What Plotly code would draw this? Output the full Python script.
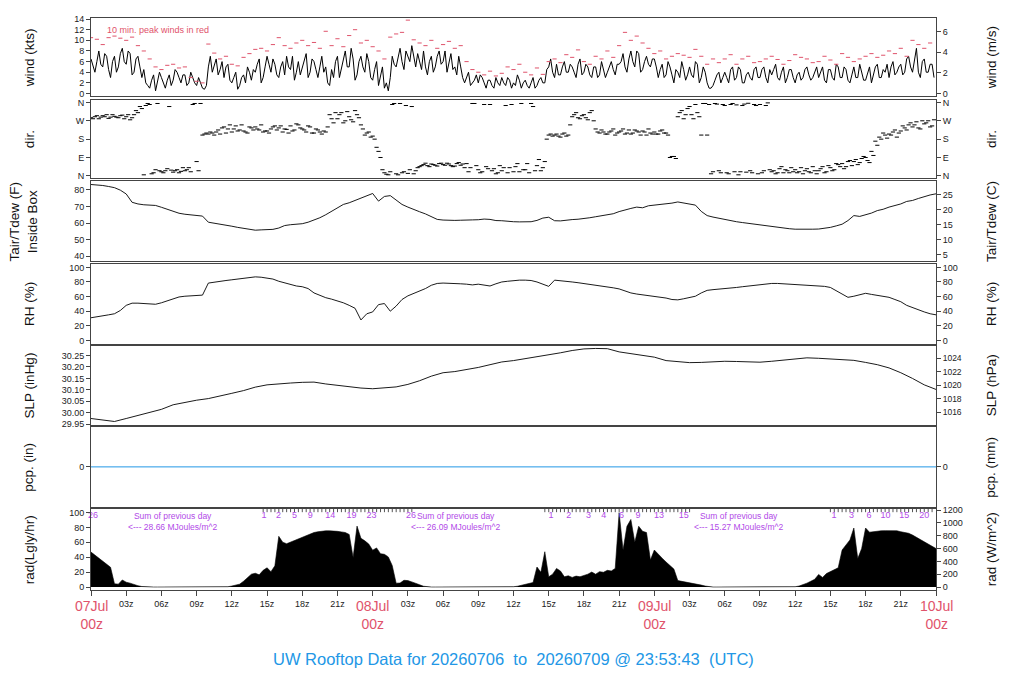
import numpy as np
import plotly.graph_objects as go

FONT = "Liberation Sans, Arial, sans-serif"
RED = "#DF536B"
BLUE = "#2297E6"
PURPLE = "#B24AE8"

# ---- data: time axis is hours after 07Jul 00z ----

# wind speed (kts), every 20 min on the hour grid
wind_kts = [
    6.5, 4, 8, 5, 7, 3, 7, 5, 8.5, 5.5, 7.5, 4, 7, 3, 2, 1, 3.5, 2,
    3, 1, 3.5, 2.5, 4, 2, 3.5, 2, 3, 1.5, 2, 0.8, 5, 4, 6.5, 4.5, 3, 5.5,
    2, 4, 1.5, 3.5, 5, 2.5, 4, 6.5, 3, 7, 4, 5.5, 3, 6, 7, 4.5, 2.5, 6,
    5, 7.5, 4, 6, 3, 7, 5, 1.5, 3, 7, 4.5, 8, 5, 6.5, 3.5, 7, 4, 6,
    2.5, 6, 3, 1, 0.5, 7, 5, 8.5, 4.5, 7, 9, 5, 6, 8, 3.5, 7, 5, 8,
    6, 4, 7.5, 5, 7, 3, 3, 1.5, 2.5, 2, 3, 1, 2.5, 1, 2, 3, 1.5, 2.5,
    2, 3.5, 1, 2.5, 1, 3, 1.5, 3, 2, 5, 4, 5.5, 3.5, 6, 4, 5, 3, 6.5,
    4, 5, 3, 5, 3.5, 4.5, 4, 6, 3.5, 5.5, 7.5, 4, 8, 5, 7.5, 4.5, 7, 5,
    6.5, 3, 5.5, 3.5, 5, 2, 4, 6, 2.5, 5, 3, 5.5, 3, 4, 1, 1.5, 3.5, 2,
    4, 2, 5, 3, 4.5, 2, 4, 2.5, 5, 3, 5, 2, 3.5, 5.5, 2.5, 5, 3, 4.5,
    2, 4, 3, 5, 2.5, 4, 3, 5, 2, 4.5, 2.5, 5, 3, 4.5, 2, 5, 3, 4,
    2.5, 5, 3.5, 5.5, 3, 4, 3, 6, 4, 5.5, 4, 7, 4, 8.5, 3, 6.5, 4, 5.5,
]

# wind speed (kts), the samples 10 min after each of the above
wind_kts_mid = [
    5, 6, 5.5, 7.5, 4.5, 6, 4, 7.5, 6, 8, 3.5, 6.5, 5, 4.5, 1.5, 2.5, 0.5, 4,
    2, 2.5, 1.5, 4.5, 3, 3.5, 1.5, 4, 2, 3, 1, 1.5, 7, 5.5, 3.5, 6, 5, 2.5,
    3, 0.8, 3, 2, 4, 4.5, 5.5, 2, 5, 5.5, 6.5, 3.5, 5, 3.5, 5, 7, 4, 3.5,
    6.5, 3, 6.5, 4.5, 5, 4, 2, 4.5, 6, 3, 6.5, 5, 8.5, 2.5, 6, 5, 7.5, 3,
    4.5, 1.5, 5, 2, 3, 5.5, 7, 6, 8, 6, 7, 7.5, 4.5, 5, 6, 4, 7, 5.5,
    8, 5.5, 4.5, 3.5, 5, 2, 4, 2, 3.5, 3.5, 2, 2.5, 1.5, 3, 1.5, 2, 3, 1,
    1.5, 2.5, 2, 1.5, 2, 1, 2.5, 2, 4.5, 6.5, 3, 3.5, 5, 4, 5.5, 4, 5.5, 3.5,
    5.5, 3.5, 5, 3, 6, 3, 5, 4.5, 5.5, 6, 5, 6.5, 6, 8, 4, 6, 5.5, 6.5,
    5, 4.5, 3, 6, 3.5, 4.5, 3, 4.5, 3.5, 3.5, 6, 2, 5, 2, 1, 2.5, 4, 3,
    3, 4.5, 2.5, 5, 2, 3.5, 3, 4.5, 3, 4.5, 3, 4.5, 4.5, 3, 4, 2, 4.5, 3,
    3.5, 2.5, 4.5, 3.5, 3, 5, 4, 2.5, 4.5, 3, 5.5, 3, 5, 2.5, 3.5, 3, 5.5, 2.5,
    4, 2, 5, 3, 4.5, 5.5, 5, 3.5, 5, 3.5, 6.5, 5, 6.5, 4, 6, 4, 5.5, 3,
]

# 10 min. peak winds (kts), every 30 min
peak_kts = [
    10.5, 10.2, 9.2, 10.5, 10.8, 10.4, 10.0, 10.6, 9.0, 8.0, 6.5, 5.0,
    4.5, 5.3, 5.5, 4.8, 5.0, 3.0, 2.3, 2.0, 9.3, 7.6, 6.5, 7.0,
    5.5, 5.2, 6.8, 7.5, 8.3, 8.5, 8.0, 9.2, 10.5, 9.0, 8.5, 9.5,
    10.0, 9.0, 9.6, 8.5, 11.7, 9.0, 10.3, 8.8, 10.9, 12.0, 9.5, 10.0,
    8.8, 8.0, 6.5, 10.6, 11.2, 11.5, 13.8, 10.1, 9.5, 9.0, 10.0, 8.5,
    9.2, 9.8, 8.5, 9.0, 6.0, 4.5, 4.0, 3.5, 4.2, 3.3, 3.8, 5.0,
    4.5, 5.5, 4.0, 3.5, 4.8, 3.6, 6.0, 6.5, 5.8, 7.3, 6.8, 8.2,
    6.0, 5.5, 7.0, 6.5, 8.0, 6.8, 9.0, 11.5, 10.0, 10.8, 9.5, 8.5,
    7.5, 8.0, 6.5, 7.0, 7.5, 7.2, 6.8, 8.3, 7.0, 5.5, 6.5, 5.8,
    6.5, 7.3, 5.5, 6.5, 7.0, 5.8, 6.0, 6.5, 7.0, 6.4, 5.5, 6.2,
    7.3, 6.8, 6.5, 5.8, 6.0, 7.0, 6.3, 5.5, 7.5, 6.8, 6.0, 6.5,
    7.0, 7.5, 6.8, 7.2, 8.0, 7.5, 8.5, 7.0, 10.0, 9.2, 8.5, 9.5,
]

# wind direction (deg), every 20 min
wdir_deg = [
    285, 290, 280, 295, 300, 288, 292, 285, 298, 290, 275, 300,
    310, 330, 345, 350, 15, 355, 20, 25, 340, 18, 30, 22,
    25, 40, 350, 70, 355, 205, 205, 210, 215, 205, 240, 230,
    215, 245, 225, 220, 210, 235, 240, 225, 215, 220, 230, 245,
    235, 215, 228, 245, 225, 250, 230, 215, 240, 210, 225, 205,
    215, 300, 260, 280, 310, 270, 290, 265, 300, 250, 200, 215,
    195, 140, 90, 15, 5, 350, 10, 355, 20, 12, 340, 25,
    45, 55, 50, 58, 52, 60, 55, 62, 50, 48, 65, 58,
    60, 40, 355, 30, 20, 45, 350, 35, 15, 25, 345, 40,
    20, 60, 355, 30, 15, 340, 50, 25, 70, 200, 195, 205,
    190, 210, 200, 290, 310, 280, 300, 275, 320, 230, 210, 215,
    205, 220, 200, 215, 230, 210, 205, 225, 215, 220, 200, 210,
    215, 205, 225, 210, 90, 95, 290, 320, 300, 340, 280, 310,
    200, 355, 350, 20, 352, 15, 345, 10, 355, 348, 20, 352,
    356, 15, 345, 350, 25, 358, 20, 10, 35, 15, 25, 40,
    30, 20, 10, 35, 15, 25, 25, 45, 20, 40, 30, 55,
    60, 45, 75, 70, 55, 85, 90, 65, 100, 150, 180, 200,
    205, 215, 190, 220, 235, 250, 240, 265, 230, 255, 270, 245,
]

# wind direction (deg), the samples 10 min after each of the above
wdir_deg_mid = [
    280, 295, 288, 290, 282, 300, 288, 295, 280, 300, 285, 320,
    340, 5, 355, 10, 30, 25, 15, 35, 28, 25, 15, 40,
    30, 20, 355, 25, 200, 210, 215, 200, 225, 235, 210, 250,
    230, 220, 250, 215, 240, 225, 230, 250, 220, 210, 240, 225,
    245, 230, 210, 220, 255, 235, 225, 245, 210, 230, 215, 220,
    240, 280, 310, 300, 260, 315, 275, 320, 285, 230, 210, 190,
    180, 120, 30, 8, 20, 355, 5, 15, 345, 30, 10, 40,
    50, 62, 45, 55, 48, 62, 52, 58, 45, 60, 52, 40,
    20, 355, 50, 15, 350, 35, 25, 10, 50, 40, 15, 350,
    45, 20, 30, 60, 355, 25, 80, 40, 180, 205, 200, 195,
    205, 195, 250, 300, 285, 295, 285, 310, 270, 215, 225, 205,
    215, 230, 210, 220, 205, 225, 210, 220, 200, 215, 230, 205,
    205, 220, 210, 200, 95, 85, 310, 280, 330, 300, 350, 290,
    355, 200, 10, 355, 25, 350, 15, 350, 20, 5, 345, 18,
    25, 350, 10, 15, 345, 30, 25, 15, 45, 30, 15, 20,
    15, 40, 25, 20, 45, 10, 35, 15, 50, 25, 60, 45,
    35, 70, 50, 80, 65, 95, 75, 120, 170, 190, 210, 185,
    200, 225, 210, 245, 225, 260, 250, 235, 270, 260, 240, 275,
]

# air temperature inside box (F), every 30 min
tair_f = [
    83.2, 83.0, 82.6, 82.0, 81.3, 79.8, 77.5, 72.5, 71.5, 71.0,
    70.8, 70.6, 69.5, 68.2, 67.0, 65.9, 65.3, 64.8, 64.7, 64.2,
    60.5, 60.0, 59.2, 58.6, 58.1, 57.4, 56.8, 56.2, 55.7, 55.9,
    56.0, 56.2, 57.0, 58.5, 59.0, 59.3, 59.6, 60.5, 61.8, 63.2,
    65.0, 67.2, 69.3, 71.2, 72.2, 73.5, 75.0, 76.3, 77.8, 73.2,
    76.0, 76.5, 74.0, 71.2, 69.6, 68.4, 66.8, 65.5, 63.8, 62.2,
    61.8, 61.6, 61.6, 61.7, 61.6, 61.9, 62.0, 62.4, 62.2, 61.5,
    61.4, 61.0, 60.8, 60.7, 60.6, 60.8, 61.6, 63.0, 63.5, 61.4,
    61.3, 61.8, 62.1, 62.3, 62.6, 63.2, 63.8, 64.5, 65.0, 65.6,
    66.9, 68.0, 68.8, 69.6, 69.2, 70.4, 70.8, 71.0, 71.6, 72.0,
    72.7, 72.2, 71.5, 70.8, 67.0, 64.5, 63.6, 62.8, 62.1, 61.4,
    60.8, 60.3, 59.8, 59.2, 58.8, 58.4, 57.9, 57.4, 57.0, 56.6,
    56.3, 56.2, 56.2, 56.3, 56.4, 56.8, 57.4, 58.3, 59.3, 61.5,
    64.5, 64.0, 65.0, 66.0, 67.5, 68.3, 69.6, 70.4, 71.5, 73.0,
    73.6, 74.8, 75.9, 76.9, 77.6,
]

# relative humidity (%), every 30 min
rh_pct = [
    31, 32, 33.5, 35, 36.5, 41, 48, 51, 51, 50.5,
    50, 49.5, 51.5, 54.5, 57.5, 59.5, 60.5, 61, 60.5, 62,
    78.5, 80, 81, 82, 83, 84, 85, 86, 87, 86.5,
    85.5, 84, 81, 78.5, 76, 74.5, 73.5, 71, 65, 61.5,
    58.5, 56.5, 54.5, 51.5, 48, 44, 28, 36.5, 39, 49,
    50.5, 40, 47, 56, 61, 64, 68, 71, 75.5, 78,
    78.5, 78.5, 78, 77.5, 77, 76, 77, 76, 74.5, 77.5,
    80, 81, 82, 82.5, 82.5, 82, 80, 77, 74, 82.5,
    82, 81, 80, 79, 78, 77, 75.5, 74.5, 73.5, 72,
    70.5, 67.5, 65, 63.5, 62.5, 61, 60, 59.5, 58, 56,
    55.5, 57, 59, 60.5, 65, 68.5, 69.5, 70, 71, 72,
    72.5, 73.5, 74.5, 75.5, 76.5, 77, 78, 78, 77.5, 77,
    76.5, 76, 76, 75.5, 75, 74, 72.5, 68, 64, 59,
    60.5, 63, 64.5, 63, 62, 60.5, 59, 56, 53, 48,
    45, 41, 39, 36.5, 35,
]

# sea level pressure (inHg), hourly
slp_inhg = [
    29.975, 29.970, 29.962, 29.975, 29.988, 30.003, 30.015, 30.035, 30.046, 30.055,
    30.062, 30.075, 30.085, 30.097, 30.112, 30.122, 30.127, 30.130, 30.133, 30.134,
    30.126, 30.120, 30.113, 30.108, 30.105, 30.108, 30.113, 30.124, 30.140, 30.160,
    30.175, 30.180, 30.188, 30.198, 30.210, 30.222, 30.228, 30.236, 30.245, 30.253,
    30.262, 30.272, 30.279, 30.281, 30.280, 30.266, 30.259, 30.253, 30.243, 30.228,
    30.222, 30.219, 30.220, 30.224, 30.225, 30.224, 30.223, 30.221, 30.225, 30.230,
    30.236, 30.240, 30.238, 30.236, 30.233, 30.229, 30.220, 30.210, 30.196, 30.175,
    30.150, 30.122, 30.102,
]

# precipitation (in), hourly: none fell
pcp_in = [
    0, 0, 0, 0, 0, 0, 0, 0, 0, 0, 0, 0, 0, 0, 0, 0, 0, 0, 0, 0, 0, 0, 0, 0, 0,
    0, 0, 0, 0, 0, 0, 0, 0, 0, 0, 0, 0, 0, 0, 0, 0, 0, 0, 0, 0, 0, 0, 0, 0,
    0, 0, 0, 0, 0, 0, 0, 0, 0, 0, 0, 0, 0, 0, 0, 0, 0, 0, 0, 0, 0, 0, 0, 0,
]

# solar radiation (W/m^2), every 20 min
rad_wm2 = [
    545, 498, 450, 403, 356, 308, 50, 45, 110, 75, 60, 36, 20, 8, 2,
    0, 0, 0, 0, 0, 0, 0, 0, 0, 0, 0, 0, 0, 0, 0, 0, 0, 0, 0, 0, 5,
    15, 30, 45, 90, 150, 200, 215, 190, 260, 300, 240, 330,
    790, 700, 675, 700, 730, 760, 785, 810, 835, 850, 862, 872,
    876, 876, 875, 868, 860, 850, 820, 460, 950, 760, 720, 670,
    575, 610, 520, 510, 470, 335, 60, 62, 105, 100, 80, 62, 35, 12, 3,
    0, 0, 0, 0, 0, 0, 0, 0, 0, 0, 0, 0, 0, 0, 0, 0, 0, 0, 0, 0, 0,
    5, 12, 25, 40, 50, 70, 312, 230, 550, 160, 200, 290,
    250, 160, 175, 150, 170, 160, 180, 200, 233, 200, 240, 230,
    260, 250, 290, 1159, 577, 947, 1053, 700, 947, 868, 850, 420,
    577, 520, 450, 390, 340, 280, 100, 90, 80, 70, 55, 40, 30, 15, 3,
    0, 0, 0, 0, 0, 0, 0, 0, 0, 0, 0, 0, 0, 0, 0, 0, 0, 0, 0, 0, 0,
    5, 15, 35, 60, 90, 120, 196, 150, 210, 240, 260, 300,
    577, 650, 735, 920, 444, 600, 920, 855, 865, 872, 877, 879,
    880, 879, 877, 862, 850, 838, 810, 770, 740, 705, 670, 630, 600,
]

# running daily radiation sums (MJ/m^2) printed along the top of the rad panel
radsum_hours = [0.17, 14.74, 15.97, 17.33, 18.68, 20.39, 22.2, 23.9, 27.26,
                39.2, 40.7, 42.4, 43.7, 45.2, 46.6, 48.4, 50.5,
                63.3, 64.8, 66.3, 67.7, 69.3, 71.0]
radsum_labels = ["26", "1", "2", "5", "9", "14", "19", "23", "26",
                 "1", "2", "3", "4", "6", "9", "13", "15",
                 "1", "3", "6", "10", "15", "20"]
day_totals = ["28.66", "26.09", "15.27"]
day_total_hours = [7.0, 31.1, 55.2]

# time axis labels
hour_ticks = list(range(0, 73, 3))
day_hours = [0, 24, 48, 72]
day_names = ["07Jul", "08Jul", "09Jul", "10Jul"]

t20 = np.arange(len(wind_kts)) / 3.0
t30 = np.arange(len(peak_kts)) / 2.0
t_half = np.arange(len(tair_f)) / 2.0
t_hour = np.arange(len(slp_inhg))
t_rad = np.arange(len(rad_wm2)) / 3.0

# merge the two wind samplings into one 10-minute series
t_wind = np.concatenate([t20, t20 + 1 / 6])
order = np.argsort(t_wind)
t_wind = t_wind[order]
wind_all = np.array(wind_kts + wind_kts_mid)[order]
dir_all = np.array(wdir_deg + wdir_deg_mid)[order]

# ---- panel setup ----
KT2MS = 0.514444
INHG2HPA = 33.8639
LY2W = 11.622   # 1 Langley/hr in W/m^2

doms = [[0.8628, 1.0], [0.7205, 0.8559], [0.5747, 0.7153], [0.4306, 0.5694],
        [0.2882, 0.4271], [0.1458, 0.2847], [0.0, 0.1424]]

wind_rng = [-0.56, 14.2]
dir_rng = [-10, 370]
temp_rng = [37.0, 85.4]
rh_rng = [-4.5, 104.2]
slp_rng = [29.946, 30.293]
pcp_rng = [-1, 1]
rad_rng = [-4.0, 105.3]

panels = [
    dict(lr=wind_rng, lt=list(range(0, 15, 2)), lx=None,
         rr=[v * KT2MS for v in wind_rng], rt=[0, 2, 4, 6], rx=None,
         ltitle="wind (kts)", rtitle="wind (m/s)"),
    dict(lr=dir_rng, lt=[0, 90, 180, 270, 360], lx=["N", "E", "S", "W", "N"],
         rr=dir_rng, rt=[0, 90, 180, 270, 360], rx=["N", "E", "S", "W", "N"],
         ltitle="dir.", rtitle="dir."),
    dict(lr=temp_rng, lt=[40, 50, 60, 70, 80], lx=None,
         rr=[(v - 32) * 5 / 9 for v in temp_rng], rt=[5, 10, 15, 20, 25], rx=None,
         ltitle="Tair/Tdew (F)<br>Inside Box", rtitle="Tair/Tdew (C)"),
    dict(lr=rh_rng, lt=[0, 20, 40, 60, 80, 100], lx=None,
         rr=rh_rng, rt=[0, 20, 40, 60, 80, 100], rx=None,
         ltitle="RH (%)", rtitle="RH (%)"),
    dict(lr=slp_rng, lt=[29.95, 30.0, 30.05, 30.1, 30.15, 30.2, 30.25],
         lx=["29.95", "30.00", "30.05", "30.10", "30.15", "30.20", "30.25"],
         rr=[v * INHG2HPA for v in slp_rng], rt=[1016, 1018, 1020, 1022, 1024], rx=None,
         ltitle="SLP (inHg)", rtitle="SLP (hPa)"),
    dict(lr=pcp_rng, lt=[0], lx=None,
         rr=[v * 25.4 for v in pcp_rng], rt=[0], rx=None,
         ltitle="pcp. (in)", rtitle="pcp. (mm)"),
    dict(lr=rad_rng, lt=[0, 20, 40, 60, 80, 100], lx=None,
         rr=[v * LY2W for v in rad_rng], rt=[0, 200, 400, 600, 800, 1000, 1200], rx=None,
         ltitle="rad(Lgly/hr)", rtitle="rad (W/m^2)"),
]

tickfont = dict(family=FONT, size=9, color="#222")
layout = {}
annotations = []
for i, p in enumerate(panels, start=1):
    xk = "xaxis" if i == 1 else f"xaxis{i}"
    yk = "yaxis" if i == 1 else f"yaxis{i}"
    xr = "x" if i == 1 else f"x{i}"
    yr = "y" if i == 1 else f"y{i}"
    xa = dict(domain=[0, 1], anchor=yr, range=[0, 72], showline=True, mirror=True,
              linecolor="#444", linewidth=1, showgrid=False, zeroline=False,
              showticklabels=False, ticks="")
    if i > 1:
        xa["matches"] = "x"
    if i == 7:
        # bottom time axis: 3-hourly ticks, days labelled separately in red
        xa.update(ticks="outside", ticklen=5, tickcolor="#444", showticklabels=True,
                  tickvals=hour_ticks,
                  ticktext=["" if h % 24 == 0 else f"{h % 24:02d}z" for h in hour_ticks],
                  tickfont=tickfont)
    layout[xk] = xa
    layout[yk] = dict(domain=doms[i - 1], anchor=xr, range=p["lr"], tickvals=p["lt"],
                      ticktext=p["lx"], ticks="outside", ticklen=4, tickcolor="#444",
                      tickfont=tickfont, showline=True, mirror=True, linecolor="#444",
                      linewidth=1, showgrid=False, zeroline=False)
    layout[f"yaxis{i + 7}"] = dict(overlaying=yr, side="right", anchor=xr, domain=doms[i - 1],
                                   range=p["rr"], tickvals=p["rt"], ticktext=p["rx"],
                                   ticks="outside", ticklen=4, tickcolor="#444",
                                   tickfont=dict(tickfont, size=8.5 if i == 5 else 9),
                                   showgrid=False, zeroline=False, showline=False)
    ymid = (doms[i - 1][0] + doms[i - 1][1]) / 2
    annotations.append(dict(text=p["ltitle"], xref="paper", yref="paper",
                            x=-0.08 if i == 3 else -0.0734, y=ymid, textangle=-90,
                            xanchor="center", yanchor="middle", showarrow=False,
                            font=dict(family=FONT, size=13.5, color="#111")))
    annotations.append(dict(text=p["rtitle"], xref="paper", yref="paper", x=1.065, y=ymid,
                            textangle=-90, xanchor="center", yanchor="middle",
                            showarrow=False, font=dict(family=FONT, size=13.5, color="#111")))

fig = go.Figure()


def ghost(x, y, xa, ya):
    # invisible copy so every right-hand axis belongs to a drawn subplot
    fig.add_trace(go.Scatter(x=x, y=y, mode="lines", opacity=0, line=dict(width=0),
                             hoverinfo="skip", xaxis=xa, yaxis=ya))


# ---- traces ----
fig.add_trace(go.Scatter(x=t_wind, y=wind_all, mode="lines", line=dict(color="black", width=1),
                         xaxis="x", yaxis="y"))
fig.add_trace(go.Scatter(x=t30, y=peak_kts, mode="markers",
                         marker=dict(symbol="line-ew", size=3, line=dict(color=RED, width=1)),
                         xaxis="x", yaxis="y"))
ghost(t20, [v * KT2MS for v in wind_kts], "x", "y8")

fig.add_trace(go.Scatter(x=t_wind, y=dir_all, mode="markers",
                         marker=dict(symbol="line-ew", size=3, line=dict(color="black", width=1)),
                         xaxis="x2", yaxis="y2"))
ghost(t20, wdir_deg, "x2", "y9")

fig.add_trace(go.Scatter(x=t_half, y=tair_f, mode="lines", line=dict(color="black", width=0.9),
                         xaxis="x3", yaxis="y3"))
ghost(t_half, [(v - 32) * 5 / 9 for v in tair_f], "x3", "y10")

fig.add_trace(go.Scatter(x=t_half, y=rh_pct, mode="lines", line=dict(color="black", width=0.9),
                         xaxis="x4", yaxis="y4"))
ghost(t_half, rh_pct, "x4", "y11")

fig.add_trace(go.Scatter(x=t_hour, y=slp_inhg, mode="lines", line=dict(color="black", width=0.9),
                         xaxis="x5", yaxis="y5"))
ghost(t_hour, [v * INHG2HPA for v in slp_inhg], "x5", "y12")

fig.add_trace(go.Scatter(x=t_hour, y=pcp_in, mode="lines", line=dict(color=BLUE, width=1),
                         xaxis="x6", yaxis="y6"))
ghost(t_hour, [v * 25.4 for v in pcp_in], "x6", "y13")

ghost(t_rad, [v / LY2W for v in rad_wm2], "x7", "y7")
fig.add_trace(go.Scatter(x=t_rad, y=rad_wm2, mode="lines", fill="tozeroy", fillcolor="black",
                         line=dict(color="black", width=0.6), xaxis="x7", yaxis="y14"))

# running sums along the top of the rad panel, with small ticks between them
sum_ticks = np.concatenate([np.arange(14.67, 27.4, 1 / 3), np.arange(38.67, 51.1, 1 / 3),
                            np.arange(63.0, 71.8, 1 / 3)])
fig.add_trace(go.Scatter(x=sum_ticks, y=[1200] * len(sum_ticks), mode="markers",
                         marker=dict(symbol="line-ns", size=3, line=dict(color="#555", width=1)),
                         xaxis="x7", yaxis="y14", cliponaxis=False))
fig.add_trace(go.Scatter(x=radsum_hours, y=[1112] * len(radsum_hours), mode="text",
                         text=radsum_labels, textfont=dict(family=FONT, size=9, color=PURPLE),
                         xaxis="x7", yaxis="y14", cliponaxis=False))

# ---- text ----
for h, tot in zip(day_total_hours, day_totals):
    annotations.append(dict(text=f"Sum of previous day<br><--- {tot} MJoules/m^2",
                            xref="x7", yref="y14", x=h, y=1215, yanchor="top",
                            showarrow=False, align="center",
                            font=dict(family=FONT, size=8.5, color=PURPLE)))
for h, d in zip(day_hours, day_names):
    annotations.append(dict(text=f"{d}<br>00z", xref="x7", yref="paper", x=h, y=-0.011,
                            yanchor="top", showarrow=False,
                            font=dict(family=FONT, size=14, color=RED)))
annotations.append(dict(text="10 min. peak winds in red", xref="paper", yref="paper",
                        x=0.017, y=0.992, xanchor="left", yanchor="top", showarrow=False,
                        font=dict(family=FONT, size=9, color=RED)))
annotations.append(dict(text="UW Rooftop Data for 20260706\u00a0 to\u00a0 20260709 @ 23:53:43\u00a0 (UTC)",
                        xref="paper", yref="paper", x=0.5, y=-0.1215, yanchor="middle",
                        showarrow=False, font=dict(family=FONT, size=16.5, color=BLUE)))

# page body adds ~8px offset, so margins are trimmed to keep the plot where the reference has it
fig.update_layout(
    width=1024, height=700,
    margin=dict(l=83, r=96, t=6, b=118),
    paper_bgcolor="white", plot_bgcolor="white",
    showlegend=False,
    annotations=annotations,
    **layout,
)

fig.write_html("out.html")
